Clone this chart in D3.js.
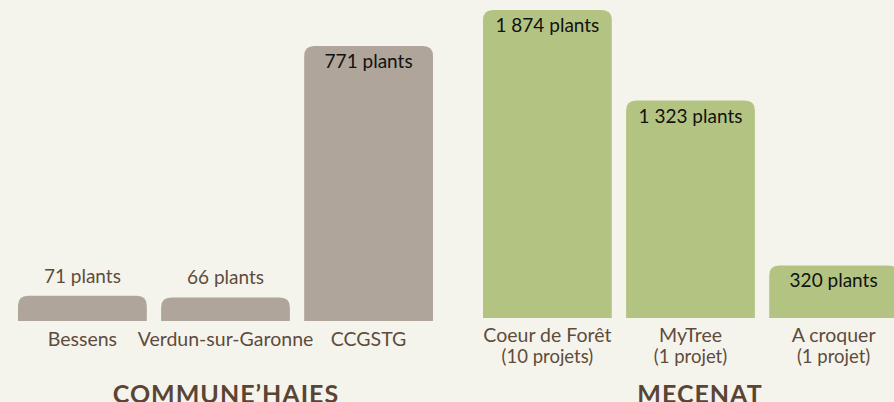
<!DOCTYPE html>
<meta charset="utf-8">
<style>
body { margin: 0; background: #f5f4ec; }
svg { display: block; font-family: "Lato", "DejaVu Sans", sans-serif; }
.val { font-size: 19px; text-anchor: middle; }
.cat { font-size: 19.5px; fill: #5e4b3c; text-anchor: middle; }
.sub { font-size: 18.5px; fill: #5e4b3c; text-anchor: middle; }
.title { font-size: 25px; font-weight: bold; fill: #5a4535; text-anchor: middle; letter-spacing: 1px; }
</style>
<svg id="chart" width="894" height="402"></svg>
<script src="https://d3js.org/d3.v7.min.js"></script>
<script>

// data
var communeNames = ["Bessens", "Verdun-sur-Garonne", "CCGSTG"];
var communeValues = [71, 66, 771];
var mecenatNames = ["Coeur de Forêt", "MyTree", "A croquer"];
var mecenatProjects = ["(10 projets)", "(1 projet)", "(1 projet)"];
var mecenatValues = [1874, 1323, 320];

var fr = d3.formatLocale({decimal: ",", thousands: " ", grouping: [3], currency: ["", " €"]});
var fmt = fr.format(",d");

var svg = d3.select("#chart");
svg.append("rect").attr("width", 894).attr("height", 402).attr("fill", "#f5f4ec");

// rounded top bar
function barPath(x0, y0, w, h, r) {
  r = Math.min(r, h, w / 2);
  return "M" + x0 + "," + (y0 + h) +
    "V" + (y0 + r) +
    "Q" + x0 + "," + y0 + " " + (x0 + r) + "," + y0 +
    "H" + (x0 + w - r) +
    "Q" + (x0 + w) + "," + y0 + " " + (x0 + w) + "," + (y0 + r) +
    "V" + (y0 + h) + "Z";
}

function group(opts) {
  var rows = opts.names.map(function(n, i) {
    return {name: n, sub: opts.subs ? opts.subs[i] : null, value: opts.values[i]};
  });

  var x = d3.scaleBand()
    .domain(opts.names)
    .range(opts.xRange)
    .paddingInner(0.1);

  var y = d3.scaleLinear()
    .domain([0, d3.max(opts.values)])
    .range([opts.bottom, opts.top]);

  var g = svg.append("g");
  var cx = function(d) { return x(d.name) + x.bandwidth() / 2; };

  g.selectAll("path.bar")
      .data(rows)
    .enter().append("path")
      .attr("class", "bar")
      .attr("fill", opts.color)
      .attr("d", function(d) {
        return barPath(x(d.name), y(d.value), x.bandwidth(), opts.bottom - y(d.value), 10);
      });

  g.selectAll("text.val")
      .data(rows)
    .enter().append("text")
      .attr("class", "val")
      .attr("x", cx)
      .attr("y", function(d) {
        var h = opts.bottom - y(d.value);
        return h > 45 ? y(d.value) + 22 : y(d.value) - 13;
      })
      .attr("fill", function(d) { return (opts.bottom - y(d.value)) > 45 ? "#111" : "#5e4b3c"; })
      .text(function(d) { return fmt(d.value) + " plants"; });

  g.selectAll("text.cat")
      .data(rows)
    .enter().append("text")
      .attr("class", "cat")
      .attr("x", cx)
      .attr("y", opts.labelY)
      .text(function(d) { return d.name; });

  g.selectAll("text.sub")
      .data(rows.filter(function(d) { return d.sub; }))
    .enter().append("text")
      .attr("class", "sub")
      .attr("x", cx)
      .attr("y", opts.labelY + 21)
      .text(function(d) { return d.sub; });

  svg.append("text")
    .attr("class", "title")
    .attr("x", opts.titleX)
    .attr("y", 403)
    .text(opts.title);
}

group({names: communeNames, values: communeValues, color: "#afa59b",
       xRange: [18, 433], bottom: 321, top: 46, labelY: 346,
       title: "COMMUNE\u2019HAIES", titleX: 226});

group({names: mecenatNames, subs: mecenatProjects, values: mecenatValues, color: "#b3c482",
       xRange: [483, 898], bottom: 318, top: 10, labelY: 342,
       title: "MECENAT", titleX: 700});

</script>
